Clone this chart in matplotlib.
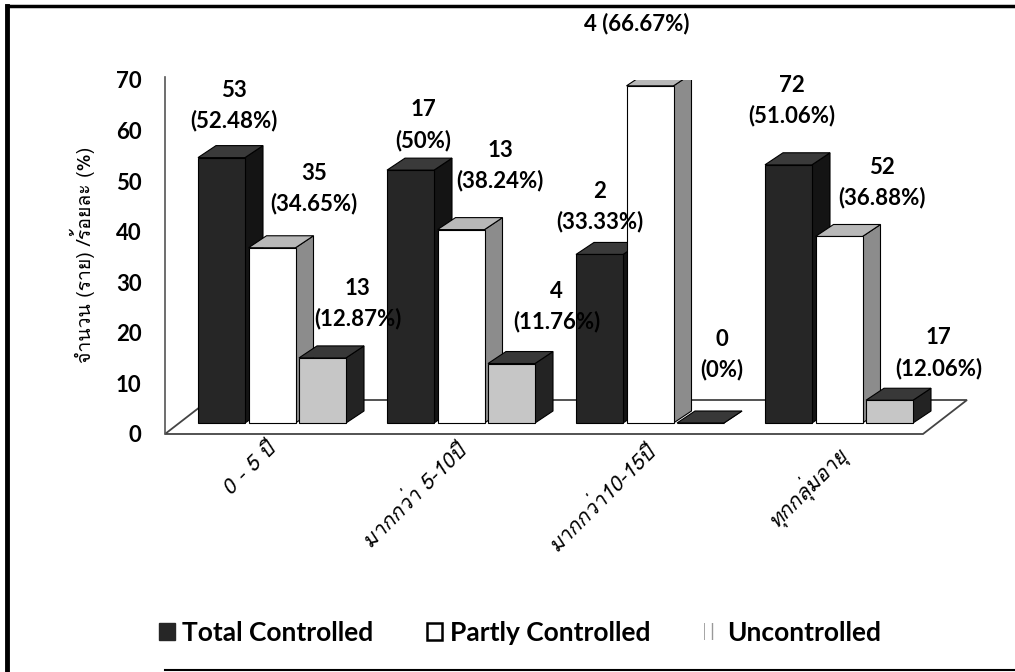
import matplotlib
matplotlib.use("Agg")
import matplotlib.pyplot as plt
from matplotlib import font_manager
from matplotlib.patches import Polygon, Patch
from matplotlib.lines import Line2D

# ---- data ----
categories = ['0 - 5 ปี', 'มากกว่า 5-10ปี', 'มากกว่า10-15ปี', 'ทุกกลุ่มอายุ']
series_names = ['Total Controlled', 'Partly Controlled', 'Uncontrolled']
counts_total = [53, 17, 2, 72]
counts_partly = [35, 13, 4, 52]
counts_unc = [13, 4, 0, 17]
pct_total = [52.48, 50, 33.33, 51.06]
pct_partly = [34.65, 38.24, 66.67, 36.88]
pct_unc = [12.87, 11.76, 0, 12.06]
# the last grey bar is drawn much shorter than its label says in the source
height_total = [52.48, 50, 33.33, 51.06]
height_partly = [34.65, 38.24, 66.67, 36.88]
height_unc = [12.87, 11.76, 0, 4.5]
y_ticks = [0, 10, 20, 30, 40, 50, 60, 70]
y_label = 'จำนวน (ราย) /ร้อยละ (%)'


# หาฟอนต์ที่มีอักษรไทย (Thai glyphs) ถ้ามี
def find_thai_font():
    try:
        from fontTools.ttLib import TTFont
    except ImportError:
        return None
    for path in sorted(font_manager.findSystemFonts()):
        try:
            f = TTFont(path, fontNumber=0, lazy=True)
            cmap = f.getBestCmap()
            if cmap and 0x0E01 in cmap and 0x0E35 in cmap:
                return font_manager.FontProperties(fname=path).get_name()
        except Exception:
            continue
    return None


thai = find_thai_font()
thai_family = [thai, 'DejaVu Sans'] if thai else ['DejaVu Sans']
plt.rcParams['font.family'] = ['Lato', 'DejaVu Sans']

W, H = 1015, 672
fig = plt.figure(figsize=(W / 100, H / 100), dpi=100)

# axes placed so that 0..70 runs from y=434px to y=80px, groups 189px apart
ax_left_px, ax_right_px = 165, 971
ax = fig.add_axes([ax_left_px / W, (H - 434) / H, (ax_right_px - ax_left_px) / W, 354 / H])
c0_px, step_px = 272, 189
ax.set_xlim((ax_left_px - c0_px) / step_px, (ax_right_px - c0_px) / step_px)
ax.set_ylim(0, 70)

px_x = 1 / step_px      # one pixel in x data units
px_y = 70 / 354         # one pixel in y data units

bar_w = 47 * px_x
bar_gap = 50.5 * px_x
depth_x, depth_y = 18 * px_x, 12 * px_y
base = 11 * px_y

# floor and left wall
fl_left, fl_right = ax.get_xlim()[0], (923 - c0_px) / step_px
fl_dx, fl_dy = 44 * px_x, 34 * px_y
floor = Polygon([(fl_left, 0), (fl_right, 0), (fl_right + fl_dx, fl_dy), (fl_left + fl_dx, fl_dy)],
                closed=True, facecolor='white', edgecolor='#444444', lw=1.3, zorder=1, clip_on=False)
ax.add_patch(floor)
ax.plot([fl_left, fl_left], [0, 70.5], color='#555555', lw=1.2, zorder=1, clip_on=False)

styles = [
    dict(front='#262626', side='#141414', top='#3a3a3a'),
    dict(front='#ffffff', side='#8c8c8c', top='#b8b8b8'),
    dict(front='#c6c6c6', side='#232323', top='#383838'),
]
heights = [height_total, height_partly, height_unc]
counts = [counts_total, counts_partly, counts_unc]
pcts = [pct_total, pct_partly, pct_unc]

# label offsets from the bar's front-top centre, pixels (dx, dy of lower line)
label_off = [
    [(12, 35), (13, 28), (0, 31), (3, 47)],
    [(42, 42), (39, 47), (-13, 62), (43, 37)],
    [(35, 37), (45, 40), (21, 51), (49, 30)],
]

z = 3
for g in range(len(categories)):
    for s in range(3):
        h = heights[s][g]
        x0 = g + (s - 1) * bar_gap - bar_w / 2
        x1 = x0 + bar_w
        y0, y1 = base, base + h
        st = styles[s]
        side = Polygon([(x1, y0), (x1 + depth_x, y0 + depth_y), (x1 + depth_x, y1 + depth_y), (x1, y1)],
                       closed=True, facecolor=st['side'], edgecolor='black', lw=0.8, zorder=z)
        top = Polygon([(x0, y1), (x1, y1), (x1 + depth_x, y1 + depth_y), (x0 + depth_x, y1 + depth_y)],
                      closed=True, facecolor=st['top'], edgecolor='black', lw=0.8, zorder=z)
        ax.add_patch(side)
        ax.add_patch(top)
        ax.bar(x0, h, width=bar_w, bottom=y0, align='edge', color=st['front'],
               edgecolor='black', lw=0.8, zorder=z + 0.5)
        z += 1

        dx, dy = label_off[s][g]
        pct_txt = f"({pcts[s][g]:g}%)"
        if s == 1 and g == 2:
            txt, off = f"{counts[s][g]} {pct_txt}", dy
        else:
            txt, off = f"{counts[s][g]}\n{pct_txt}", dy + 17
        ax.annotate(txt, xy=(x0 + bar_w / 2, y1), xytext=(dx * 0.72, off * 0.72),
                    textcoords='offset points', ha='center', va='center', fontsize=16,
                    fontweight='bold', linespacing=1.5, zorder=50, annotation_clip=False)

# category labels
for g, name in enumerate(categories):
    ax.text(g - 6 * px_x, -6 * px_y, name, rotation=45, rotation_mode='anchor', ha='right', va='top',
            fontsize=15, family=thai_family, style='italic')

ax.set_xticks([])
ax.set_yticks(y_ticks)
ax.set_yticklabels([str(t) for t in y_ticks], fontsize=16, fontweight='bold')
ax.tick_params(axis='y', length=0, pad=17)
for sp in ax.spines.values():
    sp.set_visible(False)
ax.patch.set_alpha(0)

fig.text(82 / W, 1 - 255 / H, y_label, rotation=90, ha='center', va='center', fontsize=14, family=thai_family)

handles = [
    Patch(facecolor='#262626', edgecolor='#262626'),
    Patch(facecolor='white', edgecolor='black', lw=1.8),
    Patch(facecolor='white', edgecolor='#999999', hatch='||', lw=0),
]
fig.legend(handles, series_names, loc='center', bbox_to_anchor=(520 / W, 1 - 633 / H), ncol=3,
           frameon=False, prop=dict(family='Lato', weight='bold', size=19), handlelength=0.6,
           handleheight=0.6, handletextpad=0.3, columnspacing=2.0)

# outer frame of the scanned picture
fig.add_artist(Line2D([7 / W, 7 / W], [0, 1 - 6 / H], transform=fig.transFigure, color='black', lw=3.5))
fig.add_artist(Line2D([7 / W, 1], [1 - 6 / H, 1 - 6 / H], transform=fig.transFigure, color='black', lw=2.5))
fig.add_artist(Line2D([165 / W, 1], [2 / H, 2 / H], transform=fig.transFigure, color='black', lw=1.5))

fig.savefig('out.png', dpi=100)
